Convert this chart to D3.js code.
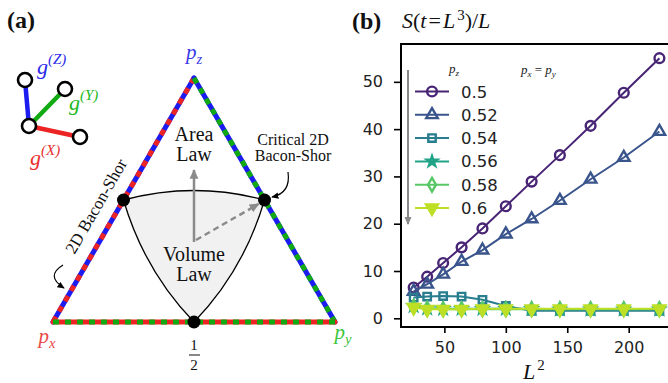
<!DOCTYPE html>
<html>
<head>
<meta charset="utf-8">
<script src="https://cdn.jsdelivr.net/npm/d3@7"></script>
<style>
  body { margin: 0; background: #fff; }
  svg { display: block; }
  .serif { font-family: "Liberation Serif", "DejaVu Serif", serif; }
  .tick text { font-family: "DejaVu Sans", sans-serif; font-size: 16px; fill: #222; }
</style>
</head>
<body>
<script>
// panel (b) data: S(t=L^3)/L against L^2
var sizes = [25, 36, 49, 64, 81, 100, 121, 144, 169, 196, 225];
var pzLabels = ["0.5", "0.52", "0.54", "0.56", "0.58", "0.6"];
var s050 = [6.5, 8.8, 11.7, 15.0, 19.0, 23.7, 28.9, 34.5, 40.7, 47.7, 55.0];
var s052 = [5.7, 7.2, 9.3, 12.0, 14.4, 17.8, 21.0, 24.9, 29.4, 34.0, 39.5];
var s054 = [4.4, 4.6, 4.7, 4.6, 3.9, 2.6, 1.6, 1.6, 1.6, 1.6, 1.6];
var s056 = [2.6, 2.1, 2.0, 2.0, 2.0, 2.0, 2.0, 1.9, 1.9, 1.9, 1.9];
var s058 = [2.4, 2.0, 1.9, 1.9, 1.9, 1.9, 1.9, 1.9, 1.9, 1.9, 1.9];
var s060 = [2.3, 1.9, 1.9, 1.9, 2.0, 2.0, 2.0, 2.0, 2.0, 2.0, 2.0];
var xTicks = [50, 100, 150, 200];
var yTicks = [0, 10, 20, 30, 40, 50];

// panel (a) points in barycentric form (px, py, pz)
var corners = [[1, 0, 0], [0, 1, 0], [0, 0, 1]];
var edgeMids = [[0.5, 0, 0.5], [0, 0.5, 0.5], [0.5, 0.5, 0]];

var width = 668, height = 383;
var svg = d3.select("body").append("svg")
    .attr("width", width).attr("height", height);

var defs = svg.append("defs");
function arrowMarker(id, color, w) {
    defs.append("marker").attr("id", id)
        .attr("viewBox", "0 0 10 10").attr("refX", 8).attr("refY", 5)
        .attr("markerWidth", w).attr("markerHeight", w)
        .attr("markerUnits", "userSpaceOnUse")
        .attr("orient", "auto")
        .append("path").attr("d", "M0,1 L9,5 L0,9 Z").attr("fill", color);
}
arrowMarker("headGray", "#8a8a8a", 11);
arrowMarker("headBlack", "#000", 8);
arrowMarker("headLeg", "#8a8a8a", 9);

var blue = "#1c1cf0", red = "#ec2424", green = "#12aa12";

// ---------------- panel (a) ----------------
var a = svg.append("g");
var tx = d3.scaleLinear().domain([0, 1]).range([53, 335]);
var ty = d3.scaleLinear().domain([0, 1]).range([322, 78]);
function tern(p) { return [tx(p[1] + p[2] / 2), ty(p[2])]; }

var P = corners.map(tern), M = edgeMids.map(tern);

// shaded volume-law region
var cTop = [tx(0.5), ty(0.5) - 19];
var cL = [M[0][0] + 21, M[0][1] + 71];
var cR = [M[1][0] - 21, M[1][1] + 71];
a.append("path")
    .attr("d", "M" + M[0] + " Q" + cTop + " " + M[1] + " Q" + cR + " " + M[2] + " Q" + cL + " " + M[0] + " Z")
    .attr("fill", "#f1f1f1").attr("stroke", "#000").attr("stroke-width", 1.3);

// edges: two-colour dashes
var edges = [[P[0], P[2], blue, red], [P[2], P[1], blue, green], [P[0], P[1], red, green]];
edges.forEach(function(e) {
    a.append("line").attr("x1", e[0][0]).attr("y1", e[0][1]).attr("x2", e[1][0]).attr("y2", e[1][1])
        .attr("stroke", e[2]).attr("stroke-width", 5).attr("stroke-linecap", "round");
    a.append("line").attr("x1", e[0][0]).attr("y1", e[0][1]).attr("x2", e[1][0]).attr("y2", e[1][1])
        .attr("stroke", e[3]).attr("stroke-width", 5).attr("stroke-dasharray", "6,6");
});

// arrows inside
a.append("line").attr("x1", tx(0.5)).attr("y1", 242).attr("x2", tx(0.5)).attr("y2", 170)
    .attr("stroke", "#8a8a8a").attr("stroke-width", 2.5).attr("marker-end", "url(#headGray)");
a.append("line").attr("x1", tx(0.5) + 2).attr("y1", 240).attr("x2", M[1][0] - 6).attr("y2", M[1][1] + 4)
    .attr("stroke", "#8a8a8a").attr("stroke-width", 2.5).attr("stroke-dasharray", "6,4")
    .attr("marker-end", "url(#headGray)");

a.selectAll("circle.mid").data(M).enter().append("circle")
    .attr("cx", function(d) { return d[0]; }).attr("cy", function(d) { return d[1]; })
    .attr("r", 6.5).attr("fill", "#000");

// curved pointer arrows
a.append("path").attr("d", "M288,172 Q291,193 272,197")
    .attr("fill", "none").attr("stroke", "#000").attr("stroke-width", 1.2).attr("marker-end", "url(#headBlack)");
a.append("path").attr("d", "M63,265 Q45,276 64,288")
    .attr("fill", "none").attr("stroke", "#000").attr("stroke-width", 1.2).attr("marker-end", "url(#headBlack)");

function txt(g, x, y, s, size, opts) {
    opts = opts || {};
    return g.append("text").attr("class", "serif").attr("x", x).attr("y", y)
        .attr("font-size", size).attr("text-anchor", opts.anchor || "middle")
        .attr("fill", opts.fill || "#111").attr("font-style", opts.style || null)
        .attr("font-weight", opts.weight || null).text(s);
}
txt(a, 194, 141, "Area", 20);
txt(a, 194, 161, "Law", 20);
txt(a, 194, 261, "Volume", 20);
txt(a, 194, 281, "Law", 20);
txt(a, 293, 145, "Critical 2D", 16);
txt(a, 293, 161, "Bacon-Shor", 16);
txt(a, 0, 0, "2D Bacon-Shor", 17).attr("transform", "translate(101,209) rotate(-60)");

// corner labels
function sub(g, x, y, base, s, size, color) {
    var t = g.append("text").attr("class", "serif").attr("x", x).attr("y", y)
        .attr("font-size", size).attr("fill", color).attr("font-style", "italic").attr("text-anchor", "middle");
    t.append("tspan").text(base);
    t.append("tspan").attr("dy", size * 0.22).attr("font-size", size * 0.7).text(s);
    return t;
}
sub(a, P[2][0], 59, "p", "z", 21, "#3a3ae6");
sub(a, P[0][0] - 6, 343, "p", "x", 21, "#e84848");
sub(a, P[1][0] + 8, 339, "p", "y", 21, "#3cc43c");

txt(a, 194, 350, "1", 15);
a.append("line").attr("x1", 189).attr("x2", 200).attr("y1", 355).attr("y2", 355)
    .attr("stroke", "#111").attr("stroke-width", 1);
txt(a, 194, 370, "2", 15);

txt(a, 7, 28, "(a)", 24, { anchor: "start", weight: "bold" });

// small check-operator sketch
var gNodes = [[25, 80], [29, 126], [65, 89], [80, 137]];
var gLinks = [[0, 1, blue], [1, 2, green], [1, 3, red]];
a.selectAll("line.glink").data(gLinks).enter().append("line")
    .attr("x1", function(d) { return gNodes[d[0]][0]; }).attr("y1", function(d) { return gNodes[d[0]][1]; })
    .attr("x2", function(d) { return gNodes[d[1]][0]; }).attr("y2", function(d) { return gNodes[d[1]][1]; })
    .attr("stroke", function(d) { return d[2]; }).attr("stroke-width", 4.5);
a.selectAll("circle.gnode").data(gNodes).enter().append("circle")
    .attr("cx", function(d) { return d[0]; }).attr("cy", function(d) { return d[1]; })
    .attr("r", 7).attr("fill", "#fff").attr("stroke", "#000").attr("stroke-width", 2.6);

function gLabel(x, y, s, color) {
    var t = a.append("text").attr("class", "serif").attr("x", x).attr("y", y)
        .attr("font-size", 22).attr("fill", color).attr("font-style", "italic");
    t.append("tspan").text("g");
    t.append("tspan").attr("dy", -10).attr("font-size", 15).text("(" + s + ")");
}
gLabel(37, 74, "Z", "#2a2ae8");
gLabel(69, 110, "Y", "#22b822");
gLabel(30, 165, "X", "#e83030");

// ---------------- panel (b) ----------------
var x = d3.scaleLinear().domain([14.7, 235]).range([401, 671.7]);
var y = d3.scaleLinear().domain([-1.84, 58]).range([327, 44]);

var series = [s050, s052, s054, s056, s058, s060];
var colors = [0.1, 0.26, 0.42, 0.58, 0.74, 0.9].map(d3.interpolateViridis);
var symbols = [
    { type: d3.symbolCircle, size: 75, filled: false, rot: 0 },
    { type: d3.symbolTriangle, size: 58, filled: false, rot: 0 },
    { type: d3.symbolSquare, size: 55, filled: false, rot: 0 },
    { type: d3.symbolStar, size: 32, filled: true, rot: 0 },
    { type: d3.symbolDiamond, size: 55, filled: false, rot: 0 },
    { type: d3.symbolTriangle, size: 62, filled: true, rot: 180 }
];

var b = svg.append("g");

b.append("g").attr("transform", "translate(0,327)")
    .call(d3.axisBottom(x).tickValues(xTicks).tickSize(6).tickSizeOuter(0).tickPadding(9))
    .call(function(g) { g.select(".domain").remove(); g.selectAll(".tick line").attr("stroke-width", 1.6); });
b.append("g").attr("transform", "translate(401,0)")
    .call(d3.axisLeft(y).tickValues(yTicks).tickSize(7).tickSizeOuter(0).tickPadding(11))
    .call(function(g) { g.select(".domain").remove(); g.selectAll(".tick line").attr("stroke-width", 1.6); });

var line = d3.line().x(function(d, i) { return x(sizes[i]); }).y(function(d) { return y(d); });

series.forEach(function(s, k) {
    var col = colors[k], sym = symbols[k];
    var g = b.append("g");
    g.append("path").datum(s).attr("d", line)
        .attr("fill", "none").attr("stroke", col).attr("stroke-width", 2);
    g.selectAll("path.pt").data(s).enter().append("path")
        .attr("d", d3.symbol().type(sym.type).size(sym.size))
        .attr("transform", function(d, i) { return "translate(" + x(sizes[i]) + "," + y(d) + ") rotate(" + sym.rot + ")"; })
        .attr("fill", sym.filled ? col : "none").attr("stroke", col).attr("stroke-width", 2.4);
});

// frame (right side falls outside the picture)
b.append("path").attr("d", "M" + x(235) + "," + y(58) + " H401 V327 H" + x(235))
    .attr("fill", "none").attr("stroke", "#000").attr("stroke-width", 2);

// legend
var leg = b.append("g");
var rowY = d3.scaleLinear().domain([0, 5]).range([91.5, 208]);
pzLabels.forEach(function(lab, k) {
    var col = colors[k], sym = symbols[k], yy = rowY(k);
    leg.append("line").attr("x1", 415).attr("x2", 449).attr("y1", yy).attr("y2", yy)
        .attr("stroke", col).attr("stroke-width", 2);
    leg.append("path").attr("d", d3.symbol().type(sym.type).size(sym.size))
        .attr("transform", "translate(432," + yy + ") rotate(" + sym.rot + ")")
        .attr("fill", sym.filled ? col : "none").attr("stroke", col).attr("stroke-width", 2.4);
    leg.append("text").attr("x", 461).attr("y", yy + 6)
        .attr("font-family", "DejaVu Sans, sans-serif").attr("font-size", 16.5).attr("fill", "#222")
        .text(lab);
});
leg.append("line").attr("x1", 408).attr("x2", 408).attr("y1", 70).attr("y2", 224)
    .attr("stroke", "#8a8a8a").attr("stroke-width", 2).attr("marker-end", "url(#headLeg)");

sub(leg, 454, 73, "p", "z", 13, "#222");
var hx = leg.append("text").attr("class", "serif").attr("x", 521).attr("y", 74)
    .attr("font-size", 13).attr("fill", "#222");
hx.append("tspan").attr("font-style", "italic").text("p");
hx.append("tspan").attr("font-style", "italic").attr("dy", 3).attr("font-size", 9).text("x");
hx.append("tspan").attr("dy", -3).text(" = ");
hx.append("tspan").attr("font-style", "italic").text("p");
hx.append("tspan").attr("font-style", "italic").attr("dy", 3).attr("font-size", 9).text("y");

// titles
txt(b, 352, 29, "(b)", 24, { anchor: "start", weight: "bold" });
var tt = b.append("text").attr("class", "serif").attr("x", 402).attr("y", 28).attr("font-size", 22).attr("fill", "#111");
tt.append("tspan").attr("font-style", "italic").text("S");
tt.append("tspan").text("(");
tt.append("tspan").attr("font-style", "italic").text("t");
tt.append("tspan").attr("dx", 2).text("=");
tt.append("tspan").attr("dx", 2).attr("font-style", "italic").text("L");
tt.append("tspan").attr("dx", 2).attr("dy", -8).attr("font-size", 15).text("3");
tt.append("tspan").attr("dy", 8).text(")/");
tt.append("tspan").attr("font-style", "italic").text("L");

var xl = b.append("text").attr("class", "serif").attr("x", 523).attr("y", 379).attr("font-size", 22).attr("fill", "#111");
xl.append("tspan").attr("font-style", "italic").text("L");
xl.append("tspan").attr("dx", 2).attr("dy", -9).attr("font-size", 15).text("2");
</script>
</body>
</html>
